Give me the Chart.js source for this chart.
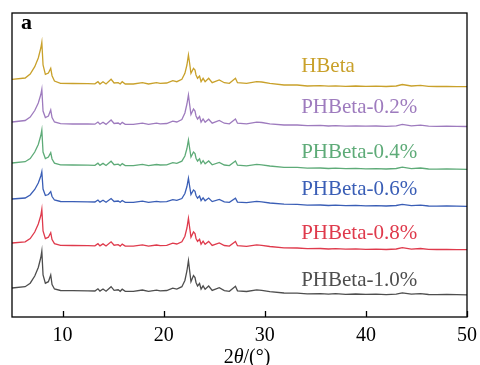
<!DOCTYPE html>
<html>
<head>
<meta charset="utf-8">
<script src="https://cdn.jsdelivr.net/npm/chart.js@4/dist/chart.umd.min.js"></script>
<style>
html,body{margin:0;padding:0;background:#fff;}
#wrap{width:480px;height:365px;}
</style>
</head>
<body>
<div id="wrap"><canvas id="c" width="480" height="365"></canvas></div>
<script>
// 2θ positions (degrees)
const theta = [5.0, 6.3, 6.8, 7.25, 7.6, 7.85, 7.95, 8.07, 8.3, 8.6, 8.83, 8.96, 9.2, 9.8, 11.0, 12.5, 13.2, 13.5, 13.7, 14.0, 14.3, 14.8, 15.1, 15.5, 15.7, 15.9, 16.2, 17.0, 17.9, 18.5, 19.3, 19.65, 20.3, 20.9, 21.3, 21.8, 22.1, 22.3, 22.45, 22.55, 22.7, 22.95, 23.1, 23.2, 23.35, 23.55, 23.7, 23.9, 24.1, 24.45, 24.8, 25.5, 26.0, 26.5, 27.1, 27.3, 28.2, 29.2, 29.7, 30.5, 31.9, 33.2, 34.2, 35.5, 36.3, 37.0, 38.0, 39.0, 40.0, 41.0, 42.0, 43.0, 43.6, 44.5, 45.4, 46.2, 47.0, 48.0, 49.0, 50.0];

// stacked intensities (a.u., offset)
const hbeta = [237.7, 239, 243, 250.3, 259, 269, 274.7, 252, 242.7, 244, 248.7, 241.3, 236, 233.7, 233.5, 233.3, 233.2, 235.3, 233, 235.3, 233, 237.7, 234, 234.3, 233, 235.3, 233, 233, 234.3, 233, 234.3, 233.7, 234, 236.3, 235.3, 237.7, 243.7, 252, 262, 255, 243.7, 248.7, 247, 242, 238.7, 241, 235.3, 238.7, 235.3, 238.7, 234.3, 237, 234.3, 233.7, 238.7, 234.3, 233.7, 235.3, 235, 233.7, 232, 232, 231, 231.3, 230.8, 231.2, 230.7, 231, 230.6, 230.8, 230.5, 231, 232.5, 231, 231.7, 230.6, 230.5, 230.7, 230.4, 230.3];
const phb02 = [195, 196.5, 200, 206.5, 214, 222.5, 227.7, 206, 199.5, 201, 207, 199.5, 195, 193.3, 193, 193, 192.8, 195, 192.8, 194.8, 192.6, 197, 193.5, 194, 192.6, 194.6, 192.6, 192.7, 193.8, 192.6, 193.8, 193.2, 193.5, 195.8, 195, 197.5, 204, 213, 222, 214, 202.5, 208, 206, 201, 198, 200.5, 194.8, 198, 194.8, 197.8, 193.8, 196.5, 193.8, 193.2, 198, 193.8, 193.2, 194.8, 194.5, 193.2, 192, 192, 191.3, 191.6, 191, 191.4, 190.9, 191.2, 190.8, 191, 190.7, 191.2, 192.6, 191.1, 191.8, 190.8, 190.7, 190.9, 190.6, 190.5];
const phb04 = [154, 155.3, 158.5, 165, 172.5, 181.5, 187, 165, 158.5, 160, 164.3, 158, 153.8, 152.2, 152, 151.8, 151.7, 153.8, 151.6, 153.6, 151.5, 155.8, 152.3, 152.8, 151.4, 153.4, 151.4, 151.4, 152.6, 151.3, 152.5, 152, 152.2, 154.3, 153.6, 155.8, 161, 168.5, 177, 170, 160, 165, 163.5, 158.8, 156, 158.3, 153.4, 156.3, 153.2, 156, 152.2, 154.6, 152, 151.4, 156, 151.8, 151.2, 152.6, 152.2, 151, 149.7, 149.6, 148.8, 149, 148.5, 148.9, 148.3, 148.6, 148.2, 148.4, 148, 148.5, 149.8, 148.4, 149, 148, 147.9, 148.1, 147.8, 147.7];
const phb06 = [118, 119, 122, 127.5, 134, 141, 145.3, 128, 121.5, 122.5, 125.3, 120.5, 117, 115.5, 115.3, 115.1, 115, 117, 114.9, 116.8, 114.8, 118.5, 115.5, 116, 114.7, 116.5, 114.7, 114.7, 115.8, 114.6, 115.7, 115.2, 115.4, 117.3, 116.6, 118.5, 123.5, 130.5, 138.7, 132, 122.5, 127, 125.7, 121.5, 118.8, 121, 116.5, 119.2, 116.3, 119, 115.4, 117.6, 115.2, 114.6, 118.8, 114.9, 114.3, 115.6, 115.2, 114, 112.8, 112.6, 111.8, 112, 111.5, 111.9, 111.3, 111.6, 111.2, 111.4, 111, 111.5, 112.7, 111.3, 111.9, 111, 110.9, 111.1, 110.8, 110.7];
const phb08 = [74, 75.2, 78.5, 85, 93, 101.5, 107.7, 86, 78.5, 79.8, 84.3, 77.5, 73.3, 71.7, 71.5, 71.3, 71.2, 73.3, 71.1, 73.1, 71, 75.2, 71.8, 72.3, 70.9, 72.9, 70.9, 70.9, 72.1, 70.8, 72, 71.4, 71.7, 73.8, 73, 75.2, 80.8, 89, 98.7, 91, 79.8, 85, 83.4, 78.5, 75.6, 77.8, 72.8, 75.8, 72.7, 75.6, 71.6, 74, 71.5, 70.9, 75.6, 71.3, 70.7, 72.1, 71.7, 70.5, 69.2, 69, 68.3, 68.5, 68, 68.4, 67.8, 68.1, 67.7, 67.9, 67.5, 68, 69.3, 67.9, 68.5, 67.6, 67.5, 67.7, 67.4, 67.3];
const phb10 = [29, 30.3, 33.8, 41, 49.5, 59.5, 66, 42, 33.8, 35.3, 42, 32.5, 28, 26.5, 26.3, 26.1, 26, 28.2, 25.9, 28, 25.8, 30.3, 26.7, 27.2, 25.7, 27.8, 25.7, 25.7, 27, 25.6, 26.9, 26.2, 26.5, 28.8, 27.9, 30.3, 36.5, 46, 56.3, 48, 35.3, 41.5, 39.5, 34.5, 31, 33.5, 27.8, 31.2, 27.7, 31, 26.6, 29.3, 26.4, 25.7, 30.8, 26.2, 25.5, 27.1, 26.6, 25.3, 24, 23.8, 23.2, 23.4, 22.9, 23.3, 22.7, 23, 22.6, 22.8, 22.4, 22.9, 24.2, 22.8, 23.4, 22.5, 22.4, 22.6, 22.3, 22.2];

const seriesNames = ['HBeta', 'PHBeta-0.2%', 'PHBeta-0.4%', 'PHBeta-0.6%', 'PHBeta-0.8%', 'PHBeta-1.0%'];
const seriesValues = [hbeta, phb02, phb04, phb06, phb08, phb10];
const seriesColors = ['#C9A12B', '#9E7BBE', '#5EAB78', '#3A5EB6', '#DF3A4C', '#4E4E4E'];
// label anchor (2θ, baseline intensity)
const labelX = [33.6, 33.6, 33.6, 33.6, 33.6, 33.6];
const labelY = [245, 204, 159.3, 122, 78, 31.3];
const xTicks = [10, 20, 30, 40, 50];

const SERIF = "'Liberation Serif','Times New Roman',serif";

const datasets = seriesNames.map((n, i) => ({
  label: n,
  data: theta.map((t, k) => ({x: t, y: seriesValues[i][k]})),
  borderColor: seriesColors[i],
  borderWidth: 1.3,
  pointRadius: 0,
  tension: 0,
  fill: false
}));

const decor = {
  id: 'decor',
  afterDraw(chart) {
    const ctx = chart.ctx, a = chart.chartArea;
    const xs = chart.scales.x, ys = chart.scales.y;
    ctx.save();
    // frame
    ctx.strokeStyle = '#000';
    ctx.lineWidth = 1.3;
    ctx.strokeRect(a.left, a.top, a.right - a.left, a.bottom - a.top);
    // inward ticks
    ctx.beginPath();
    xs.ticks.forEach(t => {
      const px = Math.round(xs.getPixelForValue(t.value)) + 0.5;
      ctx.moveTo(px, a.bottom);
      ctx.lineTo(px, a.bottom - 6);
    });
    ctx.stroke();
    // series labels
    ctx.font = '21px ' + SERIF;
    ctx.textBaseline = 'alphabetic';
    ctx.textAlign = 'left';
    seriesNames.forEach((n, i) => {
      ctx.fillStyle = seriesColors[i];
      ctx.fillText(n, xs.getPixelForValue(labelX[i]), ys.getPixelForValue(labelY[i]));
    });
    // panel letter
    ctx.fillStyle = '#000';
    ctx.font = 'bold 22px ' + SERIF;
    ctx.fillText('a', a.left + 9, a.top + 16);
    // axis title 2θ/(°)
    const p1 = '2', p3 = '/(°)';
    ctx.font = 'italic 20px ' + SERIF;
    const wTh = ctx.measureText('θ').width;
    ctx.font = '20px ' + SERIF;
    const w1 = ctx.measureText(p1).width, w3 = ctx.measureText(p3).width;
    const total = w1 + wTh + w3;
    const x0 = 247 - total / 2;
    const yb = 363;
    ctx.fillText(p1, x0, yb);
    ctx.font = 'italic 20px ' + SERIF;
    ctx.fillText('θ', x0 + w1, yb);
    ctx.font = '20px ' + SERIF;
    ctx.fillText(p3, x0 + w1 + wTh, yb);
    ctx.restore();
  }
};

new Chart(document.getElementById('c'), {
  type: 'line',
  data: {datasets},
  options: {
    responsive: false,
    animation: false,
    devicePixelRatio: 1,
    layout: {padding: {left: 12, right: 13, top: 13, bottom: 0}},
    plugins: {legend: {display: false}, tooltip: {enabled: false}},
    scales: {
      x: {
        type: 'linear', min: 5, max: 50,
        afterBuildTicks: s => { s.ticks = xTicks.map(v => ({value: v})); },
        afterFit: s => { s.height = 48; s.paddingLeft = 0; s.paddingRight = 0; },
        grid: {display: false, drawTicks: false},
        border: {display: false},
        ticks: {color: '#000', font: {family: SERIF, size: 20}, padding: 7, maxRotation: 0}
      },
      y: {display: false, min: 0, max: 304}
    }
  },
  plugins: [decor]
});
</script>
</body>
</html>
